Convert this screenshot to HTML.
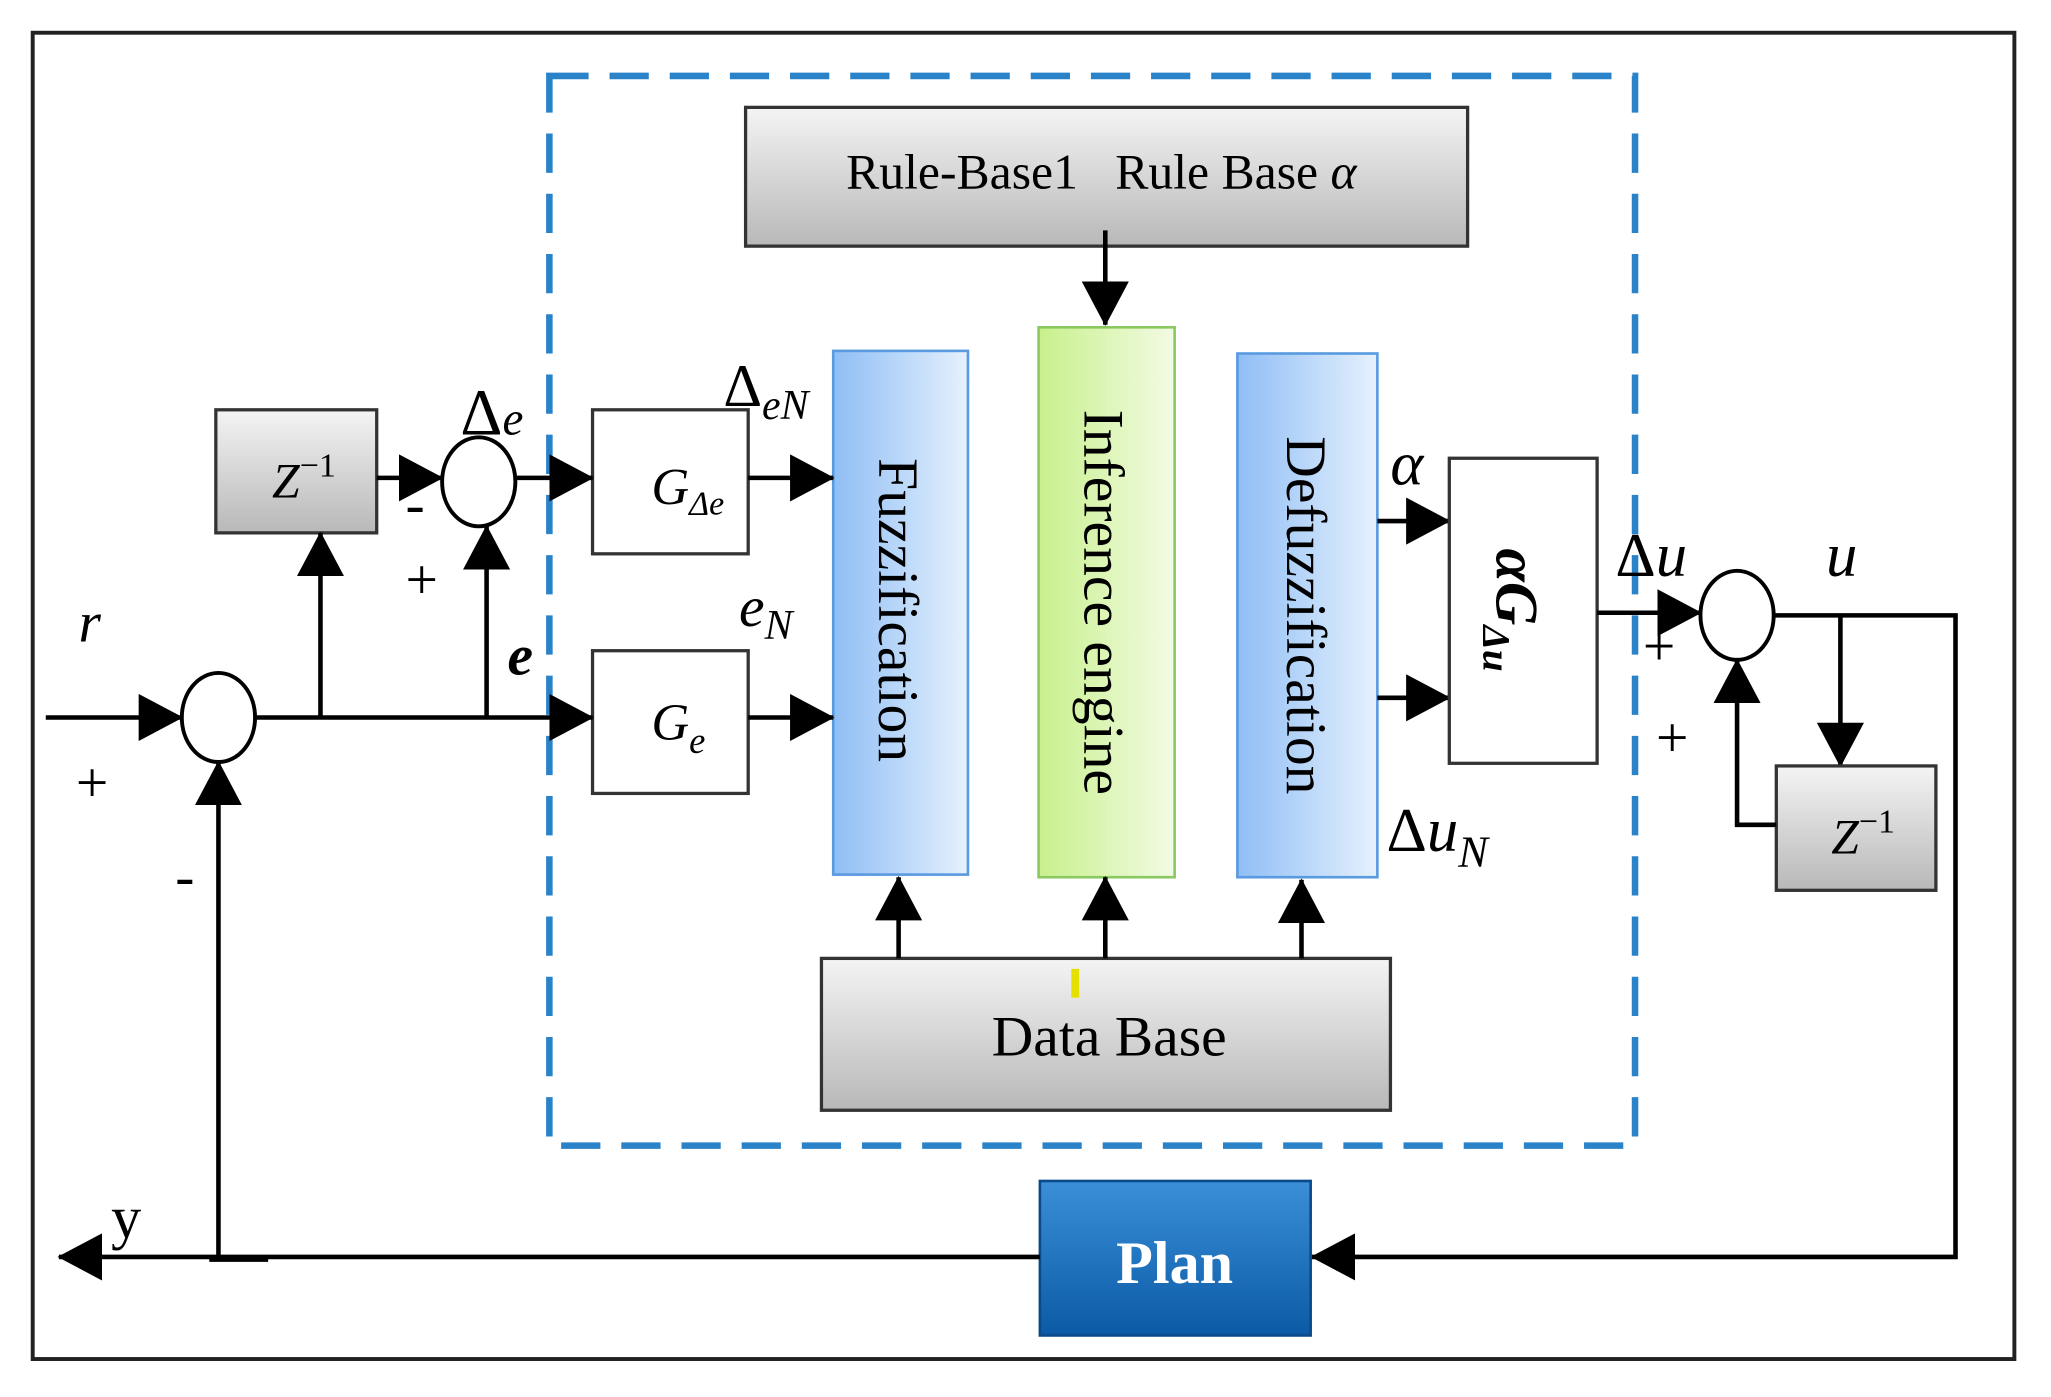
<!DOCTYPE html>
<html><head><meta charset="utf-8"><style>html,body{margin:0;padding:0;background:#fff}svg{display:block}</style></head><body>
<svg width="2051" height="1397" viewBox="0 0 1568 1067" preserveAspectRatio="none" xmlns="http://www.w3.org/2000/svg" font-family="Liberation Serif, serif">
<defs>
<linearGradient id="gray" x1="0" y1="0" x2="0" y2="1"><stop offset="0" stop-color="#f4f4f4"/><stop offset="1" stop-color="#b8b8b8"/></linearGradient>
<linearGradient id="blue" x1="0" y1="0" x2="1" y2="0"><stop offset="0" stop-color="#8fbef5"/><stop offset="1" stop-color="#e6f1fd"/></linearGradient>
<linearGradient id="green" x1="0" y1="0" x2="1" y2="0"><stop offset="0" stop-color="#c8f08c"/><stop offset="1" stop-color="#f2fbe4"/></linearGradient>
<linearGradient id="plan" x1="0" y1="0" x2="0" y2="1"><stop offset="0" stop-color="#3a8fd8"/><stop offset="1" stop-color="#0b5aa6"/></linearGradient>
<marker id="b" markerWidth="34" markerHeight="36" refX="33" refY="18" orient="auto" markerUnits="userSpaceOnUse" viewBox="0 0 34 36"><path d="M0,0 L34,18 L0,36z" fill="#000"/></marker>
</defs>
<style>.l{stroke:#000;stroke-width:3.5;fill:none}.m{marker-end:url(#b)}</style>
<rect x="25" y="25" width="1515" height="1013" fill="#fff" stroke="#222" stroke-width="3"/>
<rect x="420" y="58" width="830" height="817" fill="none" stroke="#2a82c8" stroke-width="5" stroke-dasharray="30 16"/>
<rect x="570" y="82" width="552" height="106" fill="url(#gray)" stroke="#333" stroke-width="2.5"/>
<text x="842" y="144" font-size="38" text-anchor="middle">Rule-Base1 &#160;&#160;Rule Base <tspan font-style="italic">α</tspan></text>
<line class="l m" x1="845" y1="176" x2="845" y2="248"/>
<rect x="637" y="268" width="103" height="400" fill="url(#blue)" stroke="#5a9be0" stroke-width="2"/>
<rect x="794" y="250" width="104" height="420" fill="url(#green)" stroke="#8cc860" stroke-width="2"/>
<rect x="946" y="270" width="107" height="400" fill="url(#blue)" stroke="#5a9be0" stroke-width="2"/>
<text transform="translate(672,466) rotate(90)" font-size="44" text-anchor="middle">Fuzzification</text>
<text transform="translate(829,460) rotate(90)" font-size="44" text-anchor="middle">Inference engine</text>
<text transform="translate(984,470) rotate(90)" font-size="44" text-anchor="middle">Defuzzification</text>
<rect x="628" y="732" width="435" height="116" fill="url(#gray)" stroke="#333" stroke-width="2.5"/>
<rect x="819" y="740" width="6" height="22" fill="#e6e000"/>
<text x="848" y="806" font-size="44" text-anchor="middle">Data Base</text>
<line class="l m" x1="687" y1="732" x2="687" y2="670"/>
<line class="l m" x1="845" y1="732" x2="845" y2="670"/>
<line class="l m" x1="995" y1="732" x2="995" y2="672"/>
<rect x="453" y="313" width="119" height="110" fill="#fff" stroke="#333" stroke-width="2.5"/>
<text x="498" y="385" font-size="40" font-style="italic">G<tspan font-size="26" dy="8">Δe</tspan></text>
<rect x="453" y="497" width="119" height="109" fill="#fff" stroke="#333" stroke-width="2.5"/>
<text x="498" y="565" font-size="40" font-style="italic">G<tspan font-size="28" dy="10">e</tspan></text>
<rect x="165" y="313" width="123" height="94" fill="url(#gray)" stroke="#333" stroke-width="2.5"/>
<text x="208" y="380" font-size="38" font-style="italic">Z<tspan font-size="26" dy="-16" font-style="normal">−1</tspan></text>
<ellipse cx="366" cy="368" rx="28" ry="34" fill="#fff" stroke="#000" stroke-width="3"/>
<ellipse cx="167" cy="548" rx="28" ry="34" fill="#fff" stroke="#000" stroke-width="3"/>
<line class="l m" x1="35" y1="548" x2="139" y2="548"/>
<line class="l m" x1="195" y1="548" x2="453" y2="548"/>
<line class="l m" x1="245" y1="548" x2="245" y2="407"/>
<line class="l m" x1="372" y1="548" x2="372" y2="402"/>
<line class="l m" x1="288" y1="365" x2="338" y2="365"/>
<line class="l m" x1="394" y1="365" x2="453" y2="365"/>
<line class="l m" x1="572" y1="365" x2="637" y2="365"/>
<line class="l m" x1="572" y1="548" x2="637" y2="548"/>
<line class="l m" x1="1053" y1="398" x2="1108" y2="398"/>
<line class="l m" x1="1053" y1="533" x2="1108" y2="533"/>
<rect x="1108" y="350" width="113" height="233" fill="#fff" stroke="#333" stroke-width="2.5"/>
<text transform="translate(1144,466) rotate(90)" font-size="46" font-weight="bold" font-style="italic" text-anchor="middle">αG<tspan font-size="30" dy="10">Δu</tspan></text>
<ellipse cx="1328" cy="470" rx="28" ry="34" fill="#fff" stroke="#000" stroke-width="3"/>
<line class="l m" x1="1221" y1="468" x2="1300" y2="468"/>
<polyline class="l m" points="1356,470 1495,470 1495,960 1003,960"/>
<line class="l m" x1="1407" y1="470" x2="1407" y2="585"/>
<rect x="1358" y="585" width="122" height="95" fill="url(#gray)" stroke="#333" stroke-width="2.5"/>
<text x="1400" y="652" font-size="38" font-style="italic">Z<tspan font-size="26" dy="-16" font-style="normal">−1</tspan></text>
<polyline class="l m" points="1358,630 1328,630 1328,504"/>
<rect x="795" y="902" width="207" height="118" fill="url(#plan)" stroke="#0a4a88" stroke-width="2"/>
<text x="898" y="980" font-size="46" font-weight="bold" fill="#fff" text-anchor="middle">Plan</text>
<line class="l m" x1="795" y1="960" x2="45" y2="960"/>
<line class="l" x1="160" y1="962" x2="205" y2="962"/>
<line class="l m" x1="167" y1="960" x2="167" y2="582"/>
<g font-size="44">
<text x="60" y="490" font-style="italic">r</text>
<text x="58" y="612">+</text>
<text x="134" y="684">-</text>
<text x="352" y="332" font-size="50">Δ<tspan font-size="36" font-style="italic">e</tspan></text>
<text x="310" y="400">-</text>
<text x="310" y="457">+</text>
<text x="388" y="515" font-style="italic" font-weight="bold">e</text>
<text x="553" y="310" font-size="46">Δ<tspan font-size="32" font-style="italic" dy="10">eN</tspan></text>
<text x="565" y="478" font-style="italic">e<tspan font-size="32" dy="10">N</tspan></text>
<text x="1063" y="370" font-style="italic" font-size="48">α</text>
<text x="1060" y="650" font-size="48">Δ<tspan font-style="italic">u</tspan><tspan font-size="34" font-style="italic" dy="12">N</tspan></text>
<text x="1235" y="440" font-size="48">Δ<tspan font-style="italic">u</tspan></text>
<text x="1396" y="440" font-style="italic" font-size="48">u</text>
<text x="1256" y="508">+</text>
<text x="1266" y="578">+</text>
<text x="85" y="945" font-size="46">y</text>
</g>
</svg>
</body></html>
